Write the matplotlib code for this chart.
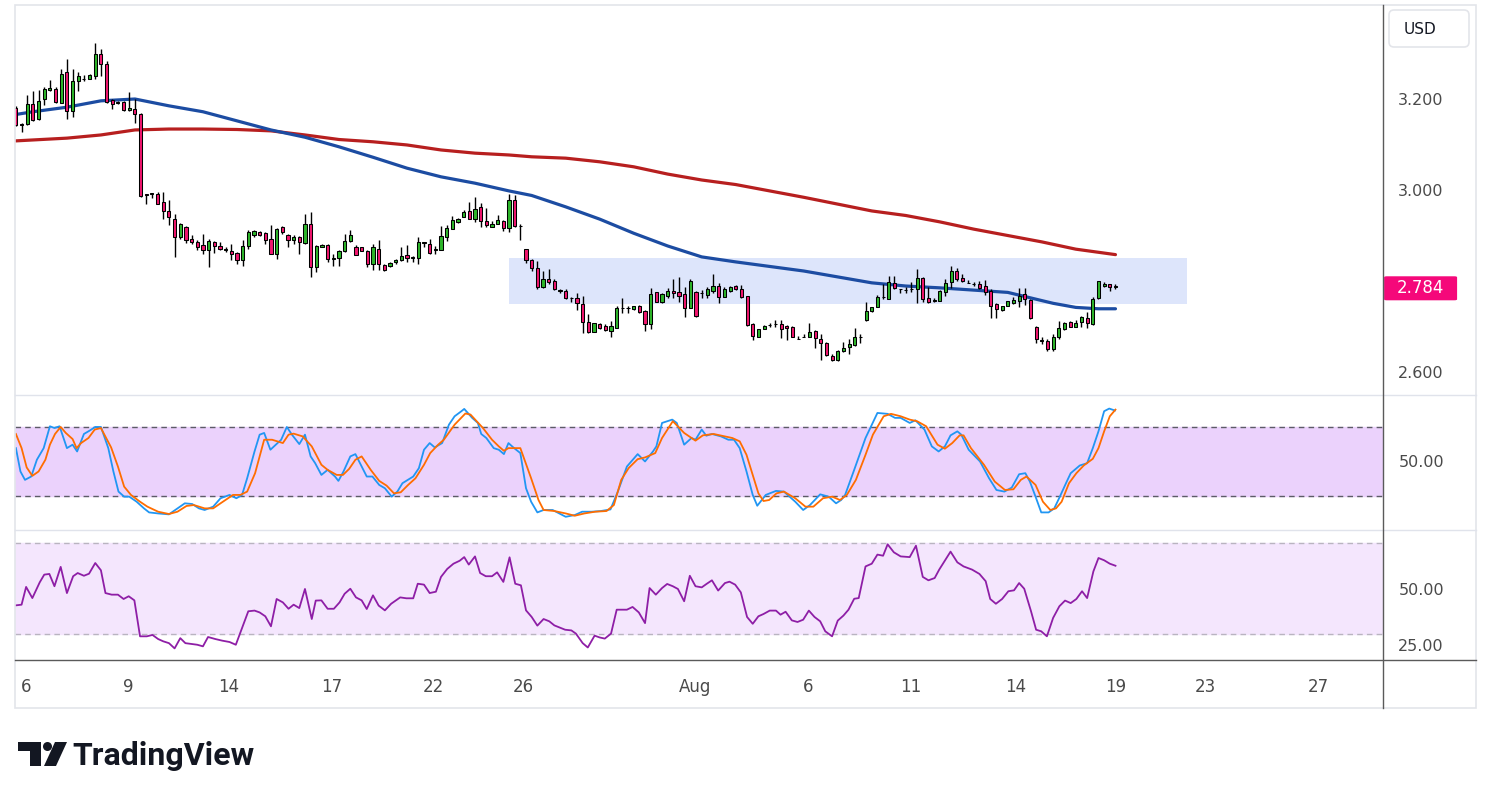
"""
4h candle chart with two moving averages, stochastic and RSI panes
"""

import numpy as np
import matplotlib
matplotlib.use('Agg')
import matplotlib.pyplot as plt
import matplotlib.patches as mpa
import matplotlib.lines as mlines
from matplotlib.transforms import IdentityTransform, blended_transform_factory
from matplotlib.ticker import FormatStrFormatter

# ---- candles (bar 1 .. 195) ----
opens = [
    3.181, 3.143, 3.144, 3.189, 3.155, 3.199, 3.219, 3.223, 3.192, 3.259,
    3.173, 3.240, 3.245, 3.245, 3.250, 3.299, 3.277, 3.197, 3.192, 3.194,
    3.175, 3.179, 3.168, 2.991, 2.992, 2.992, 2.973, 2.954, 2.937, 2.896,
    2.919, 2.893, 2.885, 2.879, 2.869, 2.885, 2.877, 2.869, 2.866, 2.862,
    2.846, 2.877, 2.902, 2.907, 2.905, 2.893, 2.860, 2.918, 2.901, 2.890,
    2.896, 2.884, 2.925, 2.831, 2.875, 2.880, 2.849, 2.851, 2.865, 2.888,
    2.875, 2.874, 2.865, 2.838, 2.871, 2.836, 2.834, 2.841, 2.846, 2.858,
    2.851, 2.850, 2.884, 2.882, 2.869, 2.869, 2.897, 2.915, 2.929, 2.941,
    2.953, 2.936, 2.962, 2.931, 2.919, 2.926, 2.932, 2.917, 2.979, 2.921,
    2.870, 2.846, 2.828, 2.786, 2.804, 2.800, 2.779, 2.778, 2.762, 2.762,
    2.749, 2.711, 2.689, 2.705, 2.701, 2.691, 2.697, 2.740, 2.741, 2.738,
    2.745, 2.735, 2.705, 2.775, 2.753, 2.768, 2.778, 2.775, 2.771, 2.741,
    2.776, 2.773, 2.769, 2.779, 2.789, 2.765, 2.779, 2.788, 2.782, 2.766,
    2.705, 2.678, 2.694, 2.703, 2.705, 2.705, 2.701, 2.699, 2.672, 2.677,
    2.677, 2.690, 2.672, 2.663, 2.635, 2.626, 2.647, 2.654, 2.659, 2.677,
    2.714, 2.734, 2.743, 2.764, 2.760, 2.795, 2.782, 2.780, 2.782, 2.782,
    2.806, 2.763, 2.757, 2.757, 2.776, 2.797, 2.821, 2.806, 2.795, 2.793,
    2.793, 2.789, 2.777, 2.749, 2.736, 2.746, 2.752, 2.757, 2.771, 2.758,
    2.699, 2.669, 2.669, 2.650, 2.676, 2.694, 2.710, 2.699, 2.709, 2.719,
    2.705, 2.762, 2.788, 2.793, 2.787]
highs = [
    3.184, 3.148, 3.208, 3.217, 3.220, 3.226, 3.242, 3.227, 3.266, 3.289,
    3.267, 3.259, 3.252, 3.256, 3.322, 3.311, 3.283, 3.201, 3.195, 3.196,
    3.215, 3.201, 3.170, 2.992, 2.993, 2.995, 2.995, 2.977, 2.947, 2.928,
    2.921, 2.901, 2.890, 2.903, 2.893, 2.888, 2.885, 2.874, 2.881, 2.864,
    2.891, 2.912, 2.912, 2.910, 2.907, 2.923, 2.917, 2.921, 2.903, 2.901,
    2.899, 2.948, 2.952, 2.879, 2.882, 2.882, 2.860, 2.869, 2.903, 2.912,
    2.879, 2.875, 2.868, 2.882, 2.890, 2.838, 2.842, 2.849, 2.875, 2.879,
    2.856, 2.897, 2.885, 2.893, 2.877, 2.922, 2.924, 2.943, 2.939, 2.955,
    2.973, 2.985, 2.972, 2.960, 2.932, 2.946, 2.934, 2.991, 2.990, 2.925,
    2.871, 2.848, 2.844, 2.822, 2.826, 2.804, 2.782, 2.782, 2.765, 2.773,
    2.767, 2.727, 2.708, 2.708, 2.705, 2.712, 2.745, 2.762, 2.746, 2.746,
    2.748, 2.736, 2.784, 2.776, 2.773, 2.784, 2.804, 2.809, 2.787, 2.804,
    2.778, 2.780, 2.786, 2.815, 2.795, 2.787, 2.790, 2.791, 2.791, 2.768,
    2.707, 2.694, 2.703, 2.708, 2.714, 2.714, 2.703, 2.701, 2.679, 2.683,
    2.707, 2.692, 2.683, 2.665, 2.639, 2.648, 2.667, 2.672, 2.696, 2.683,
    2.754, 2.743, 2.769, 2.793, 2.811, 2.811, 2.782, 2.786, 2.797, 2.826,
    2.809, 2.787, 2.762, 2.780, 2.804, 2.833, 2.828, 2.815, 2.802, 2.798,
    2.800, 2.802, 2.782, 2.751, 2.746, 2.757, 2.764, 2.784, 2.784, 2.760,
    2.702, 2.676, 2.672, 2.683, 2.713, 2.710, 2.713, 2.714, 2.723, 2.732,
    2.764, 2.801, 2.797, 2.793, 2.793]
lows = [
    3.140, 3.128, 3.143, 3.152, 3.154, 3.187, 3.217, 3.192, 3.192, 3.155,
    3.161, 3.218, 3.240, 3.243, 3.245, 3.250, 3.192, 3.177, 3.189, 3.174,
    3.174, 3.148, 2.985, 2.970, 2.983, 2.969, 2.937, 2.924, 2.853, 2.893,
    2.884, 2.882, 2.869, 2.860, 2.831, 2.862, 2.868, 2.863, 2.847, 2.838,
    2.834, 2.871, 2.896, 2.899, 2.882, 2.860, 2.849, 2.904, 2.875, 2.882,
    2.859, 2.882, 2.809, 2.820, 2.874, 2.842, 2.833, 2.833, 2.864, 2.886,
    2.857, 2.866, 2.831, 2.824, 2.824, 2.822, 2.831, 2.838, 2.844, 2.842,
    2.841, 2.838, 2.874, 2.860, 2.860, 2.868, 2.888, 2.914, 2.928, 2.940,
    2.937, 2.930, 2.919, 2.919, 2.918, 2.925, 2.910, 2.908, 2.919, 2.891,
    2.840, 2.823, 2.782, 2.784, 2.793, 2.780, 2.773, 2.760, 2.754, 2.736,
    2.686, 2.686, 2.688, 2.695, 2.690, 2.677, 2.696, 2.729, 2.729, 2.736,
    2.729, 2.691, 2.694, 2.753, 2.752, 2.762, 2.762, 2.754, 2.721, 2.740,
    2.721, 2.762, 2.762, 2.773, 2.751, 2.764, 2.776, 2.780, 2.762, 2.702,
    2.670, 2.677, 2.694, 2.698, 2.698, 2.674, 2.670, 2.676, 2.672, 2.676,
    2.676, 2.652, 2.626, 2.635, 2.625, 2.625, 2.645, 2.639, 2.658, 2.664,
    2.713, 2.732, 2.742, 2.760, 2.760, 2.782, 2.774, 2.774, 2.776, 2.752,
    2.754, 2.752, 2.753, 2.757, 2.768, 2.784, 2.800, 2.798, 2.795, 2.789,
    2.782, 2.769, 2.718, 2.718, 2.735, 2.745, 2.749, 2.742, 2.747, 2.716,
    2.663, 2.661, 2.647, 2.646, 2.672, 2.692, 2.698, 2.699, 2.699, 2.697,
    2.703, 2.760, 2.787, 2.778, 2.782]
closes = [
    3.143, 3.144, 3.189, 3.154, 3.195, 3.223, 3.224, 3.193, 3.256, 3.173,
    3.239, 3.251, 3.244, 3.253, 3.299, 3.276, 3.194, 3.190, 3.192, 3.175,
    3.181, 3.168, 2.987, 2.990, 2.992, 2.970, 2.953, 2.940, 2.897, 2.925,
    2.891, 2.886, 2.875, 2.868, 2.888, 2.877, 2.871, 2.869, 2.860, 2.846,
    2.877, 2.907, 2.910, 2.902, 2.891, 2.860, 2.915, 2.907, 2.890, 2.897,
    2.886, 2.926, 2.830, 2.878, 2.880, 2.849, 2.849, 2.865, 2.889, 2.902,
    2.858, 2.867, 2.838, 2.874, 2.838, 2.825, 2.840, 2.847, 2.856, 2.851,
    2.851, 2.885, 2.884, 2.862, 2.869, 2.899, 2.917, 2.933, 2.937, 2.951,
    2.937, 2.959, 2.931, 2.924, 2.926, 2.933, 2.916, 2.978, 2.921, 2.921,
    2.846, 2.828, 2.786, 2.804, 2.797, 2.782, 2.779, 2.762, 2.762, 2.751,
    2.710, 2.687, 2.707, 2.697, 2.692, 2.701, 2.741, 2.740, 2.741, 2.744,
    2.732, 2.705, 2.771, 2.754, 2.771, 2.779, 2.773, 2.768, 2.741, 2.801,
    2.724, 2.773, 2.782, 2.788, 2.765, 2.783, 2.787, 2.782, 2.765, 2.704,
    2.680, 2.694, 2.701, 2.703, 2.705, 2.694, 2.696, 2.677, 2.672, 2.677,
    2.688, 2.674, 2.663, 2.637, 2.626, 2.646, 2.652, 2.661, 2.677, 2.677,
    2.735, 2.742, 2.764, 2.764, 2.797, 2.784, 2.782, 2.780, 2.783, 2.806,
    2.760, 2.753, 2.757, 2.778, 2.796, 2.822, 2.805, 2.799, 2.795, 2.793,
    2.785, 2.776, 2.746, 2.738, 2.745, 2.755, 2.758, 2.768, 2.760, 2.718,
    2.672, 2.669, 2.650, 2.676, 2.697, 2.708, 2.699, 2.707, 2.720, 2.707,
    2.760, 2.799, 2.793, 2.786, 2.788]

# moving averages, read at some bars
ma_fast_bar = [1, 4, 10, 16, 22, 28, 34, 40, 46, 52, 58, 64, 70, 76, 82, 88, 92,
               98, 104, 110, 116, 122, 128, 134, 140, 146, 152, 158, 164, 170,
               176, 180, 184, 188, 192, 195]
ma_fast = [3.166, 3.172, 3.182, 3.196, 3.200, 3.185, 3.172, 3.152, 3.132, 3.116,
           3.095, 3.072, 3.048, 3.029, 3.015, 2.998, 2.988, 2.963, 2.936, 2.905,
           2.877, 2.853, 2.842, 2.832, 2.822, 2.809, 2.796, 2.789, 2.785, 2.780,
           2.775, 2.763, 2.751, 2.742, 2.739, 2.739]
ma_slow_bar = [1, 10, 16, 22, 28, 34, 40, 46, 52, 58, 64, 70, 76, 82, 88, 92, 98,
               104, 110, 116, 122, 128, 134, 140, 146, 152, 158, 164, 170, 176,
               182, 188, 195]
ma_slow = [3.108, 3.114, 3.121, 3.132, 3.134, 3.134, 3.133, 3.130, 3.121, 3.111,
           3.106, 3.099, 3.088, 3.081, 3.077, 3.073, 3.070, 3.062, 3.051, 3.035,
           3.022, 3.012, 2.998, 2.984, 2.969, 2.954, 2.944, 2.930, 2.914, 2.900,
           2.886, 2.870, 2.858]

# stochastic %K / %D
stoch_k_bar = [1.0, 1.8, 2.6, 3.7, 4.7, 5.9, 7.0, 7.8, 8.7, 10.0, 11.0, 11.8, 13.0, 14.0,
               15.0, 16.0, 17.3, 18.2, 19.1, 20.1, 21.0, 22.3, 23.6, 24.5, 26.1, 28.0,
               29.5, 30.8, 32.1, 33.3, 34.3, 35.8, 37.1, 38.7, 39.9, 40.9, 41.8, 43.1,
               44.0, 44.8, 45.9, 47.8, 48.8, 49.7, 51.0, 52.0, 53.0, 53.8, 54.9, 56.0,
               57.3, 57.9, 58.8, 60.0, 60.9, 62.9, 63.9, 65.1, 66.1, 67.3, 68.3, 69.2,
               71.1, 72.1, 73.0, 74.0, 74.9, 76.2, 77.4, 78.4, 79.6, 80.1, 81.5, 82.5,
               83.1, 84.0, 85.3, 86.2, 87.1, 87.9, 88.9, 90.0, 91.0, 91.9, 93.0, 94.1,
               95.7, 98.0, 99.6, 100.9, 102.6, 104.2, 105.9, 107.2, 108.8, 110.7, 112.0,
               113.4, 114.0, 115.0, 116.8, 117.6, 118.9, 120.2, 120.9, 122.0, 122.8,
               123.8, 125.4, 126.7, 127.7, 128.7, 129.9, 131.0, 131.8, 133.3, 135.1,
               136.5, 138.5, 139.9, 141.1, 142.9, 144.4, 145.7, 146.6, 147.3, 148.9,
               150.9, 153.0, 154.8, 156.1, 157.1, 158.7, 159.7, 161.3, 162.6, 163.8,
               164.9, 165.9, 167.1, 167.8, 169.1, 171.1, 172.7, 174.0, 175.4, 176.7,
               178.0, 179.1, 179.9, 180.9, 181.9, 183.2, 184.2, 185.1, 186.4, 187.1,
               188.7, 190.0, 191.0, 192.0, 193.0, 193.9, 194.9]
stoch_k = [61.6, 41.3, 34.0, 36.9, 51.5, 61.6, 80.6, 79.1, 80.6, 61.6, 64.6, 58.7, 73.9,
           76.8, 80.0, 80.0, 61.6, 41.3, 23.8, 19.4, 19.4, 15.0, 9.2, 5.7, 4.8, 4.0,
           9.2, 13.6, 13.0, 9.2, 7.8, 10.7, 18.0, 20.9, 18.0, 20.9, 35.4, 58.7, 73.3,
           74.8, 60.2, 68.9, 80.0, 73.3, 65.1, 73.3, 54.4, 48.5, 38.3, 42.7, 36.9,
           33.1, 41.3, 54.4, 56.4, 36.9, 36.9, 29.6, 26.7, 19.4, 23.8, 31.1, 36.9,
           44.2, 60.2, 66.0, 62.2, 66.0, 82.0, 89.3, 93.7, 95.7, 87.9, 83.5, 73.9,
           70.4, 61.6, 60.2, 56.4, 66.0, 61.6, 57.3, 26.7, 15.0, 5.7, 7.8, 7.8,
           1.9, 3.4, 6.3, 6.3, 6.9, 8.3, 23.8, 45.6, 56.4, 50.0, 58.7, 63.1, 83.5,
           86.4, 83.5, 64.6, 70.4, 68.9, 77.7, 72.4, 73.9, 71.8, 68.9, 68.9, 61.6,
           41.3, 20.9, 11.5, 20.9, 24.4, 23.8, 15.0, 7.8, 12.1, 21.4, 19.4, 13.6,
           16.5, 20.9, 42.7, 70.4, 92.2, 91.4, 87.9, 87.9, 83.5, 85.8, 77.7, 63.1,
           58.7, 63.1, 72.7, 76.2, 73.3, 60.2, 50.0, 35.4, 25.2, 23.8, 27.3, 38.9,
           39.8, 32.5, 19.4, 5.7, 5.7, 9.2, 18.5, 32.5, 39.8, 46.5, 48.5, 61.6, 76.2,
           93.7, 96.0, 94.3]
stoch_d_bar = [1.0, 2.0, 2.9, 3.9, 5.0, 6.2, 7.0, 7.9, 8.9, 9.8, 11.0, 11.7, 12.5, 13.8,
               14.9, 16.0, 17.8, 19.0, 20.1, 21.3, 22.9, 24.2, 26.1, 28.0, 29.5, 31.1,
               32.4, 34.3, 35.8, 37.1, 39.3, 40.6, 41.8, 43.2, 44.8, 46.2, 48.1, 49.1,
               50.0, 51.6, 53.2, 54.9, 56.0, 57.6, 58.7, 59.8, 60.9, 62.0, 63.6, 65.1,
               66.4, 67.7, 68.9, 70.2, 71.5, 73.0, 74.1, 75.5, 76.5, 78.4, 80.3, 81.2,
               83.4, 85.0, 86.2, 87.1, 87.9, 90.0, 91.9, 93.2, 94.1, 96.0, 98.0, 99.6,
               101.3, 103.2, 105.2, 106.5, 107.8, 109.1, 110.7, 112.0, 113.8, 115.0,
               116.9, 118.9, 120.9, 122.2, 124.1, 126.1, 127.4, 128.7, 129.9, 131.0,
               132.0, 132.9, 133.9, 135.2, 136.5, 138.5, 140.3, 141.7, 143.4, 145.0,
               146.4, 147.6, 149.2, 150.9, 152.2, 154.1, 155.4, 157.1, 158.7, 160.0,
               161.6, 163.6, 164.9, 166.2, 167.5, 168.2, 169.5, 171.8, 173.7, 175.5,
               177.0, 178.3, 179.3, 180.9, 182.2, 183.5, 184.5, 185.5, 186.8, 188.1,
               189.4, 191.0, 192.0, 193.0, 194.0, 195.0]
stoch_d = [73.9, 61.6, 44.8, 37.5, 41.3, 51.5, 64.6, 73.9, 80.0, 74.8, 69.5, 61.6, 66.0,
           70.4, 77.7, 79.1, 62.2, 45.6, 28.1, 20.9, 15.0, 10.7, 6.3, 4.3, 6.3, 11.3,
           12.1, 9.2, 9.2, 13.6, 20.9, 20.9, 23.8, 39.8, 68.9, 68.9, 66.0, 73.3, 74.2,
           71.8, 63.1, 47.1, 42.7, 38.3, 38.3, 43.6, 51.5, 54.4, 42.7, 33.1, 29.0,
           22.3, 23.2, 29.6, 35.4, 47.1, 57.3, 64.6, 68.9, 82.0, 91.7, 90.8, 79.1,
           68.9, 63.1, 59.3, 61.6, 61.6, 35.4, 16.5, 7.8, 6.9, 4.8, 2.8, 4.8, 6.3,
           6.9, 12.1, 34.0, 44.2, 52.0, 53.5, 57.3, 70.4, 85.0, 74.8, 68.1, 72.7,
           73.9, 71.8, 70.4, 67.5, 55.8, 38.3, 22.3, 15.6, 16.5, 22.3, 23.8, 18.0,
           10.7, 10.7, 18.0, 19.4, 16.5, 20.9, 34.0, 55.8, 73.3, 89.3, 91.4, 89.3,
           86.4, 85.0, 80.6, 64.6, 61.1, 66.0, 72.7, 72.7, 61.6, 47.1, 32.5, 25.2,
           25.8, 34.0, 36.9, 29.6, 15.0, 7.8, 9.2, 15.0, 31.1, 39.8, 46.5, 52.3,
           61.6, 76.2, 89.3, 95.1]

# RSI
rsi_bar = [1.0, 2.0, 2.8, 3.9, 5.2, 6.0, 6.9, 7.8, 8.9, 10.0, 11.1, 11.9, 13.0, 13.9,
           15.0, 16.0, 16.8, 17.9, 19.0, 20.0, 20.9, 21.9, 22.9, 24.1, 25.1, 26.1,
           27.0, 28.0, 29.0, 30.0, 30.9, 32.1, 33.0, 34.0, 34.9, 36.2, 37.4, 38.7,
           39.8, 40.9, 42.0, 43.1, 44.0, 45.0, 46.0, 47.0, 48.1, 49.1, 50.0, 51.0,
           52.0, 53.2, 53.9, 54.9, 56.0, 57.1, 58.1, 59.0, 60.0, 61.0, 62.0, 62.9,
           64.0, 65.0, 66.1, 67.2, 68.8, 69.9, 71.1, 71.9, 73.0, 74.0, 75.1, 76.0,
           77.1, 78.2, 79.3, 80.1, 80.9, 82.0, 82.9, 83.9, 85.0, 85.9, 87.0, 88.1,
           89.1, 90.1, 91.0, 92.0, 93.0, 94.1, 95.1, 96.0, 97.9, 99.0, 99.8, 101.0,
           101.9, 103.1, 104.0, 104.9, 106.0, 107.0, 108.8, 109.8, 110.9, 112.0,
           112.8, 113.9, 115.0, 115.9, 116.9, 117.8, 118.9, 119.9, 120.9, 122.0,
           122.9, 123.8, 124.9, 126.1, 126.9, 127.9, 128.9, 130.0, 131.0, 132.0,
           132.9, 134.0, 135.1, 135.9, 136.8, 137.9, 138.9, 139.9, 140.9, 141.9,
           142.9, 143.8, 145.0, 146.0, 147.0, 147.9, 148.9, 149.7, 150.9, 152.0,
           153.0, 154.0, 154.8, 155.9, 157.1, 158.7, 159.8, 161.0, 162.0, 163.1,
           163.9, 165.9, 167.1, 168.2, 169.7, 171.0, 172.1, 172.9, 173.9, 175.0,
           176.1, 177.1, 178.0, 178.9, 180.1, 181.0, 181.9, 182.9, 184.0, 185.1,
           186.1, 187.1, 188.1, 189.1, 190.0, 191.1, 192.0, 193.0, 194.0, 195.0]
rsi = [42.6, 42.9, 50.7, 45.8, 52.7, 56.1, 56.4, 51.0, 59.5, 48.0, 55.4, 56.8, 55.6,
       56.5, 61.2, 58.0, 48.0, 47.3, 47.3, 45.4, 46.6, 44.8, 29.0, 29.0, 29.6, 27.8,
       26.8, 26.0, 23.7, 28.2, 26.0, 25.6, 25.3, 24.6, 28.7, 27.8, 27.1, 26.5, 25.3,
       32.6, 40.0, 40.3, 39.5, 37.8, 33.4, 45.4, 43.9, 41.1, 42.9, 41.4, 49.8, 36.6,
       44.7, 44.8, 41.1, 41.1, 43.9, 47.7, 49.9, 46.1, 44.8, 41.0, 47.0, 42.5, 40.4,
       43.3, 46.1, 45.7, 45.7, 52.1, 51.7, 48.0, 48.6, 55.1, 58.6, 60.9, 62.2, 63.8,
       60.5, 64.1, 56.8, 55.4, 55.4, 57.1, 52.9, 63.7, 52.1, 51.4, 40.4, 37.5, 33.7,
       36.6, 35.6, 33.8, 31.9, 31.6, 30.2, 26.0, 24.1, 29.3, 28.5, 28.0, 30.2, 40.7,
       40.7, 41.9, 39.5, 34.8, 50.2, 47.3, 50.2, 52.0, 51.0, 49.8, 44.4, 55.6, 51.0,
       50.5, 52.1, 53.6, 49.1, 52.4, 53.0, 51.7, 48.3, 37.5, 34.5, 37.8, 38.8, 40.3,
       40.3, 38.5, 39.8, 36.0, 35.3, 36.3, 40.3, 37.5, 35.6, 31.2, 29.0, 35.9, 38.1,
       40.7, 45.5, 45.8, 59.7, 60.9, 64.9, 64.4, 69.4, 65.9, 64.1, 63.8, 68.8, 55.1,
       53.6, 54.6, 58.3, 66.2, 61.5, 59.7, 58.3, 56.4, 53.2, 45.4, 43.3, 45.4, 48.8,
       49.2, 52.4, 49.9, 40.0, 31.9, 31.2, 29.0, 37.1, 42.2, 44.7, 43.6, 45.4, 48.8,
       45.8, 57.5, 63.4, 62.4, 60.9, 60.0]

# date ticks (bar positions) and labels
tick_bar = [2.8, 20.8, 38.6, 56.7, 74.7, 90.6, 120.9, 140.7, 158.8, 177.4, 195.0, 210.9, 230.8]
tick_labels = ['6', '9', '14', '17', '22', '26', 'Aug', '6', '11', '14', '19', '23', '27']

price_ticks = [2.6, 3.0, 3.2]
zone_bars = [88.0, 207.7]
zone_prices = [2.7495, 2.8505]
last_price = 2.784

# ---- look ----
W, H = 1491, 799
green = '#2DB52A'
pink = '#F0166E'
grey_txt = '#4a4a4a'
plt.rcParams.update({'font.family': 'DejaVu Sans'})

fig = plt.figure(figsize=(W / 100, H / 100), dpi=100)
pix = IdentityTransform()


def fy(y):
    return 1 - y / H


def frame(y_top, y_bot):
    return [15 / W, fy(y_bot), (1383 - 15) / W, (y_bot - y_top) / H]


ax = fig.add_axes(frame(5, 395))
ax_st = fig.add_axes(frame(395, 530))
ax_rsi = fig.add_axes(frame(530, 660))

xlim = (0.84, 242.2)
for a in (ax, ax_st, ax_rsi):
    a.set_xlim(xlim)
    for s in a.spines.values():
        s.set_visible(False)
    a.yaxis.tick_right()
    a.tick_params(axis='y', length=0, pad=11, labelsize=11.5, labelcolor=grey_txt)
    a.tick_params(axis='x', length=0, labelbottom=False)

# main pane
ax.set_ylim(2.5495, 3.4066)
ax.set_yticks(price_ticks)
ax.yaxis.set_major_formatter(FormatStrFormatter('%.3f'))

ax.add_patch(mpa.Rectangle((zone_bars[0], zone_prices[0]), zone_bars[1] - zone_bars[0],
                           zone_prices[1] - zone_prices[0], facecolor='#DDE5FB',
                           edgecolor='none', zorder=1))
ax.plot(ma_slow_bar, ma_slow, color='#B71F1F', lw=2.3, zorder=2, solid_capstyle='round')
ax.plot(ma_fast_bar, ma_fast, color='#1C4CA2', lw=2.3, zorder=2, solid_capstyle='round')

o = np.array(opens)
h = np.array(highs)
l = np.array(lows)
c = np.array(closes)
bars = np.arange(1, len(c) + 1)
body_lo = np.minimum(o, c)
body_h = np.maximum(np.abs(c - o), 0.0007)
colors = np.where(c >= o, green, pink)
ax.vlines(bars, l, h, color='black', lw=1.0, zorder=4)
ax.bar(bars, body_h, bottom=body_lo, width=0.55, color=colors, edgecolor='black',
       linewidth=0.75, zorder=5)

# last price tag
tag_tr = blended_transform_factory(ax.transAxes, ax.transData)
ax.add_patch(mpa.FancyBboxPatch((1.0008, last_price - 0.0264), 73 / 1368, 0.0528,
                                boxstyle='round,pad=0,rounding_size=0.002',
                                transform=tag_tr, facecolor='#F5087A', edgecolor='none',
                                clip_on=False, zorder=6))
ax.text(1.0008 + 36.5 / 1368, last_price, '%.3f' % last_price, transform=tag_tr,
        ha='center', va='center', color='white', fontsize=12, clip_on=False, zorder=7)

# stochastic pane
ax_st.set_ylim(-9.6, 107.8)
ax_st.set_yticks([50])
ax_st.yaxis.set_major_formatter(FormatStrFormatter('%.2f'))
ax_st.axhspan(20, 80, color='#EBD2FC', zorder=0)
for lvl in (20, 80):
    ax_st.axhline(lvl, color='#5c5c66', lw=1, dashes=(4, 3), zorder=1)
n = min(len(stoch_k_bar), len(stoch_k))
ax_st.plot(stoch_k_bar[:n], stoch_k[:n], color='#2196F3', lw=1.3, zorder=2)
n = min(len(stoch_d_bar), len(stoch_d))
ax_st.plot(stoch_d_bar[:n], stoch_d[:n], color='#FF6D00', lw=1.3, zorder=3)

# RSI pane
ax_rsi.set_ylim(18.6, 75.7)
ax_rsi.set_yticks([25, 50])
ax_rsi.yaxis.set_major_formatter(FormatStrFormatter('%.2f'))
ax_rsi.axhspan(30, 70, color='#F4E6FD', zorder=0)
for lvl in (30, 70):
    ax_rsi.axhline(lvl, color='#b9b4c0', lw=1, dashes=(4, 3), zorder=1)
n = min(len(rsi_bar), len(rsi))
ax_rsi.plot(rsi_bar[:n], rsi[:n], color='#8E1EA6', lw=1.3, zorder=2)

ax_rsi.set_xticks(tick_bar)
ax_rsi.set_xticklabels(tick_labels)
ax_rsi.tick_params(axis='x', length=0, pad=13, labelsize=12, labelcolor=grey_txt,
                   labelbottom=True)

# ---- frame, separators, logo (pixel coords) ----
fig.add_artist(mpa.Rectangle((15, H - 708), 1476 - 15, 708 - 5, transform=pix,
                             fill=False, edgecolor='#e3e5ea', lw=1.2, zorder=3))
for yy in (395, 530):
    fig.add_artist(mlines.Line2D([15, 1476], [H - yy, H - yy], transform=pix,
                                 color='#e0e3eb', lw=1, zorder=3))
fig.add_artist(mlines.Line2D([15, 1476], [H - 660, H - 660], transform=pix,
                             color='#5a5a5a', lw=1, zorder=3))
fig.add_artist(mlines.Line2D([1383, 1383], [H - 5, H - 708], transform=pix,
                             color='#5a5a5a', lw=1, zorder=3))

# USD box
fig.add_artist(mpa.FancyBboxPatch((1389, H - 47), 80, 37, transform=pix,
                                  boxstyle='round,pad=0,rounding_size=5',
                                  facecolor='white', edgecolor='#e3e5ea', lw=1.2, zorder=4))
fig.text(1404, H - 29, 'USD', transform=pix, ha='left', va='center', fontsize=11,
         color='#131722', zorder=6)

# TradingView logo
logo = '#131722'
fig.add_artist(mpa.Rectangle((18, H - 751), 23, 9, transform=pix, color=logo, lw=0))
fig.add_artist(mpa.Rectangle((30, H - 766), 11, 24, transform=pix, color=logo, lw=0))
fig.add_artist(mpa.Circle((47.5, H - 746.5), 4.5, transform=pix, color=logo, lw=0))
fig.add_artist(mpa.Polygon([(55, H - 742), (67, H - 742), (56, H - 766), (44, H - 766)],
                           closed=True, transform=pix, color=logo, lw=0))
fig.text(72, H - 765, 'TradingView', transform=pix, ha='left', va='baseline',
         fontsize=23, fontweight='bold', family='Roboto', color=logo)

fig.savefig('out.png', dpi=100, facecolor='white')
